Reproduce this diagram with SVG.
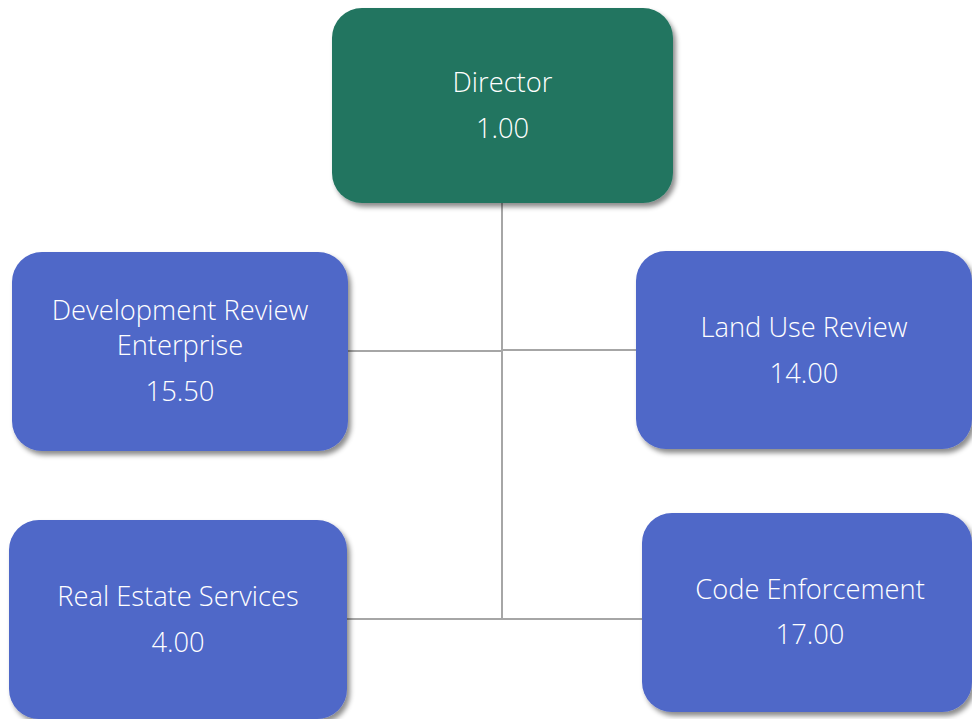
<svg xmlns="http://www.w3.org/2000/svg" width="972" height="719" viewBox="0 0 972 719">
<style>
.box{fill:#4f67c8;}
.dir{fill:#237560;}
.lbl{font-family:"Open Sans","Noto Sans","Liberation Sans",sans-serif;font-size:27.3px;font-weight:300;fill:#ffffff;text-anchor:middle;}
.con{stroke:#a6a6a6;stroke-width:2;fill:none;}
</style>
<defs>
<filter id="sh" x="-10%" y="-10%" width="125%" height="125%">
<feDropShadow dx="3" dy="4" stdDeviation="2.5" flood-color="#000" flood-opacity="0.45"/>
</filter>
</defs>
<rect width="972" height="719" fill="#ffffff"/>
<g id="connectors">
<line class="con" x1="502" y1="203" x2="502" y2="619"/>
<line class="con" x1="348" y1="351" x2="502" y2="351"/>
<line class="con" x1="502" y1="350" x2="636" y2="350"/>
<line class="con" x1="347" y1="619" x2="502" y2="619"/>
<line class="con" x1="502" y1="619" x2="642" y2="619"/>
</g>
<g id="director">
<rect class="dir" x="332" y="8" width="341" height="195" rx="30" filter="url(#sh)"/>
<text class="lbl" x="502.5" y="92">Director</text>
<text class="lbl" x="502.5" y="138">1.00</text>
</g>
<g id="dev-review">
<rect class="box" x="12" y="252" width="336" height="199" rx="30" filter="url(#sh)"/>
<text class="lbl" x="180" y="320">Development Review</text>
<text class="lbl" x="180" y="355">Enterprise</text>
<text class="lbl" x="180" y="401">15.50</text>
</g>
<g id="land-use">
<rect class="box" x="636" y="251" width="336" height="198" rx="30" filter="url(#sh)"/>
<text class="lbl" x="804" y="337">Land Use Review</text>
<text class="lbl" x="804" y="383">14.00</text>
</g>
<g id="real-estate">
<rect class="box" x="9" y="520" width="338" height="199" rx="30" filter="url(#sh)"/>
<text class="lbl" x="178" y="606">Real Estate Services</text>
<text class="lbl" x="178" y="652">4.00</text>
</g>
<g id="code-enforcement">
<rect class="box" x="642" y="513" width="330" height="199" rx="30" filter="url(#sh)"/>
<text class="lbl" x="810" y="599">Code Enforcement</text>
<text class="lbl" x="810" y="644">17.00</text>
</g>
</svg>
